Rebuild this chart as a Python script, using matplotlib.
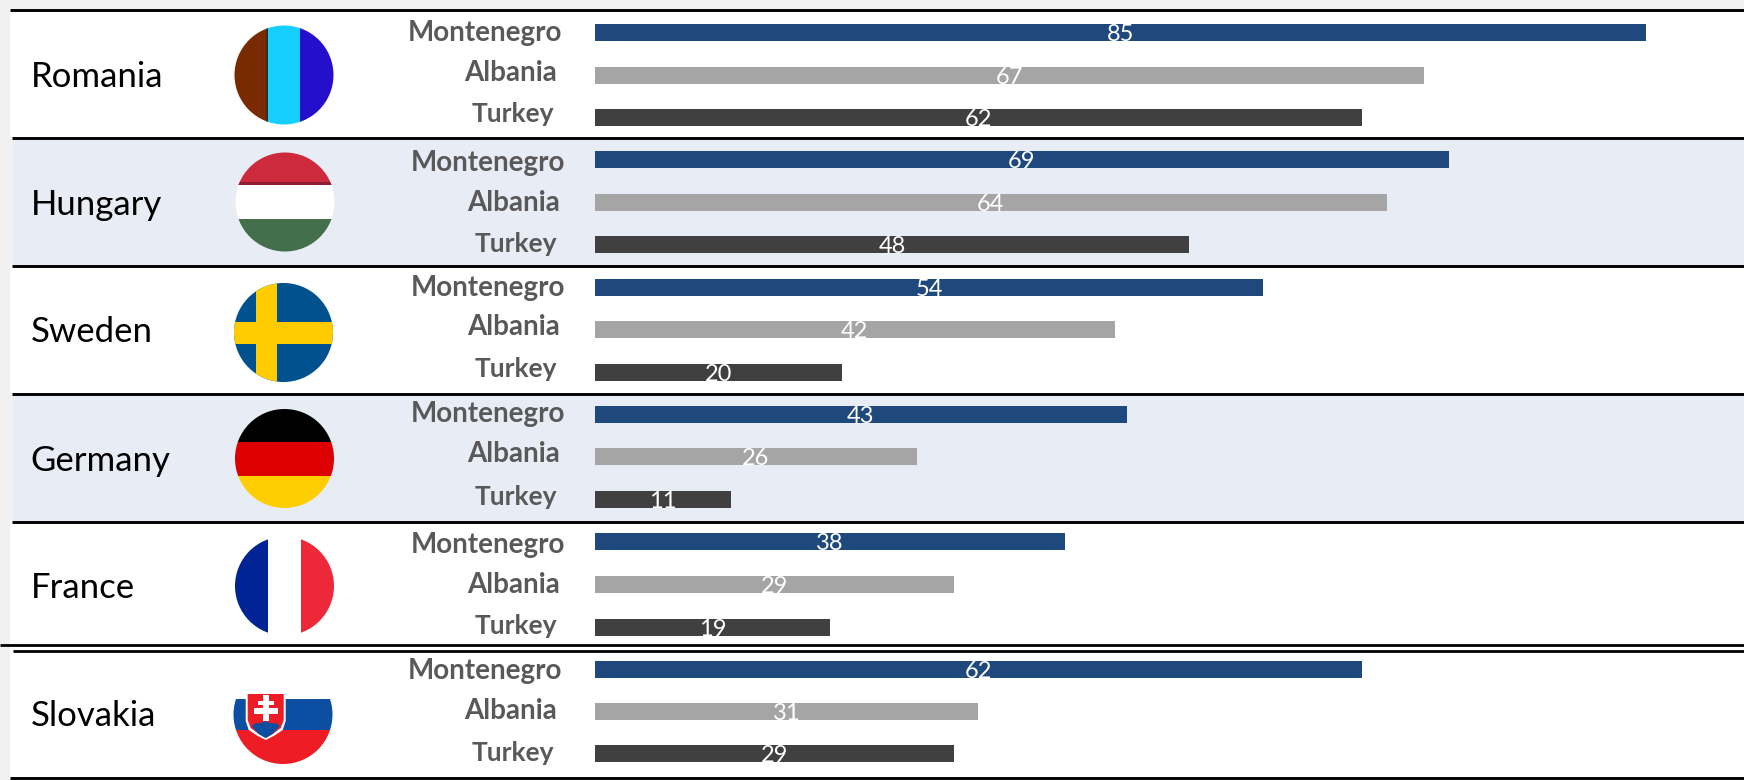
import matplotlib
matplotlib.use("Agg")
import matplotlib.pyplot as plt
from matplotlib.patches import Rectangle, Circle, Polygon

plt.rcParams['font.family'] = ['Lato', 'DejaVu Sans']

countries = ["Romania", "Hungary", "Sweden", "Germany", "France", "Slovakia"]
series = ["Montenegro", "Albania", "Turkey"]
montenegro = [85, 69, 54, 43, 38, 62]
albania = [67, 64, 42, 26, 29, 31]
turkey = [62, 48, 20, 11, 19, 29]

series_values = [montenegro, albania, turkey]
series_colors = ["#1f497d", "#a5a5a5", "#404040"]

# layout in pixels
W, H = 1744, 780
bar_y = [[32.5, 75, 117.5], [159.5, 202.5, 244.5], [287.5, 329.5, 372.5],
         [414.5, 456.5, 499.5], [541.5, 584.5, 627], [669.5, 711.5, 753.5]]
label_y = [[33, 73, 114], [163, 203, 244], [288, 327, 369],
           [414, 454, 497], [545, 585, 626], [671, 711, 753]]
label_shift = [0, 3, 3, 3, 3, 0]
label_right = [562, 557, 554]
label_size = [20, 20, 19]
country_y = [77, 205, 332.5, 461, 588.5, 716.5]
country_x = [31, 31, 31, 30.5, 31, 31]
flag_c = [(284, 75), (285, 202), (283.5, 332.5), (284.5, 458.5), (284.5, 586), (283, 714.5)]
R = 49.5

fig = plt.figure(figsize=(W / 100, H / 100), dpi=100, facecolor="#f0f0f0")
bg = fig.add_axes([0, 0, 1, 1])
bg.set_xlim(0, W)
bg.set_ylim(H, 0)
bg.axis("off")

# row bands
bands = [(9, 137, "white", 10), (137, 265, "#e8ecf4", 12.5), (265, 393, "white", 10),
         (393, 521, "#e8ecf4", 12.5), (521, 645, "white", 10), (645, 778, "white", 10)]
for top, bot, c, x0 in bands:
    bg.add_patch(Rectangle((x0, top), W - x0, bot - top, fc=c, ec="none", zorder=1))

# rules
for y, x0, lw in [(9.5, 10, 2.1), (137.5, 12, 2.1), (265.5, 12, 2.1), (393.5, 12, 2.1), (521.5, 12, 2.1),
                  (645.3, 0, 2.0), (650.5, 13, 2.0), (778, 10, 2.1)]:
    bg.plot([x0, W], [y, y], color="black", lw=lw, solid_capstyle="butt", zorder=2)


def flag(cx, cy, parts):
    clip = Circle((cx, cy), R, transform=bg.transData)
    for x0, y0, x1, y1, c in parts:
        p = Rectangle((cx + x0, cy + y0), x1 - x0, y1 - y0, fc=c, ec="none", zorder=3)
        bg.add_patch(p)
        p.set_clip_path(clip)


L = 60
cx, cy = flag_c[0]
flag(cx, cy, [(-L, -L, -17, L, "#7a2a00"), (-18, -L, -16, L, "#30302a"), (-16, -L, 16, L, "#17cfff"),
              (16, -L, L, L, "#2410cc")])
cx, cy = flag_c[1]
flag(cx, cy, [(-L, -L, L, -17, "#cd2a3e"), (-L, -20, L, -17, "#8c1f33"), (-L, -17, L, 17, "white"),
              (-L, 17, L, L, "#436f4d")])
cx, cy = flag_c[2]
flag(cx, cy, [(-L, -L, L, L, "#00528f"), (-27.5, -L, -6.5, L, "#fecc00"), (-L, -11, L, 11, "#fecc00")])
cx, cy = flag_c[3]
flag(cx, cy, [(-L, -L, L, -17, "black"), (-L, -17, L, 17, "#dd0000"), (-L, 17, L, L, "#ffce00")])
cx, cy = flag_c[4]
flag(cx, cy, [(-L, -L, -17, L, "#002395"), (-17, -L, 16, L, "white"), (16, -L, L, L, "#ed2939")])
cx, cy = flag_c[5]
flag(cx, cy, [(-L, -L, L, -15.5, "white"), (-L, -15.5, L, 15.5, "#0b4ea2"), (-L, 15.5, L, L, "#ee1c25")])
# Slovak shield
sx = cx - 17.3
sy = 715


def pts(lst):
    return [(sx + a, sy + b) for a, b in lst]


bg.add_patch(Polygon(pts([(-20, -23), (20, -23), (20, 6), (17, 15), (8, 21), (0, 25), (-8, 21), (-17, 15), (-20, 6)]),
                     fc="white", ec="none", zorder=4))
bg.add_patch(Polygon(pts([(-18, -21), (18, -21), (18, 5), (15, 13), (7, 19), (0, 23), (-7, 19), (-15, 13), (-18, 5)]),
                     fc="#ee1c25", ec="none", zorder=5))
bg.add_patch(Polygon(pts([(-14, 11), (-10, 8), (-6, 8.5), (0, 6), (6, 8.5), (10, 8), (14, 11), (7, 19), (0, 23), (-7, 19)]),
                     fc="#0b4ea2", ec="none", zorder=6))
for a, b, c, d in [(-2.8, -20, 2.8, 6), (-8, -14.3, 8, -10), (-12, -7, 12, -1)]:
    bg.add_patch(Rectangle((sx + a, sy + b), c - a, d - b, fc="white", ec="none", zorder=7))

# text
for name, x, y in zip(countries, country_x, country_y):
    bg.text(x, y, name, fontsize=25, color="black", ha="left", va="center", zorder=8)
for i in range(len(countries)):
    for j, s in enumerate(series):
        bg.text(label_right[j] + label_shift[i], label_y[i][j], s, fontsize=label_size[j], fontweight="bold",
                color="#595959", ha="right", va="center", zorder=8)

# bars
left = 595
ax = fig.add_axes([left / W, 0, 1 - left / W, 1])
ax.patch.set_alpha(0)
ax.set_xlim(0, (W - left) / 12.37)
ax.set_ylim(H, 0)
ax.axis("off")
for i in range(len(countries)):
    for j in range(3):
        v = series_values[j][i]
        bar = ax.barh(bar_y[i][j], v, height=17, color=series_colors[j], linewidth=0)[0]
        t = ax.text(v / 2, bar_y[i][j] + 2, str(v), color="white", fontsize=17, ha="center", va="center")
        t.set_clip_path(bar)

fig.savefig("out.png", dpi=100, facecolor=fig.get_facecolor())
